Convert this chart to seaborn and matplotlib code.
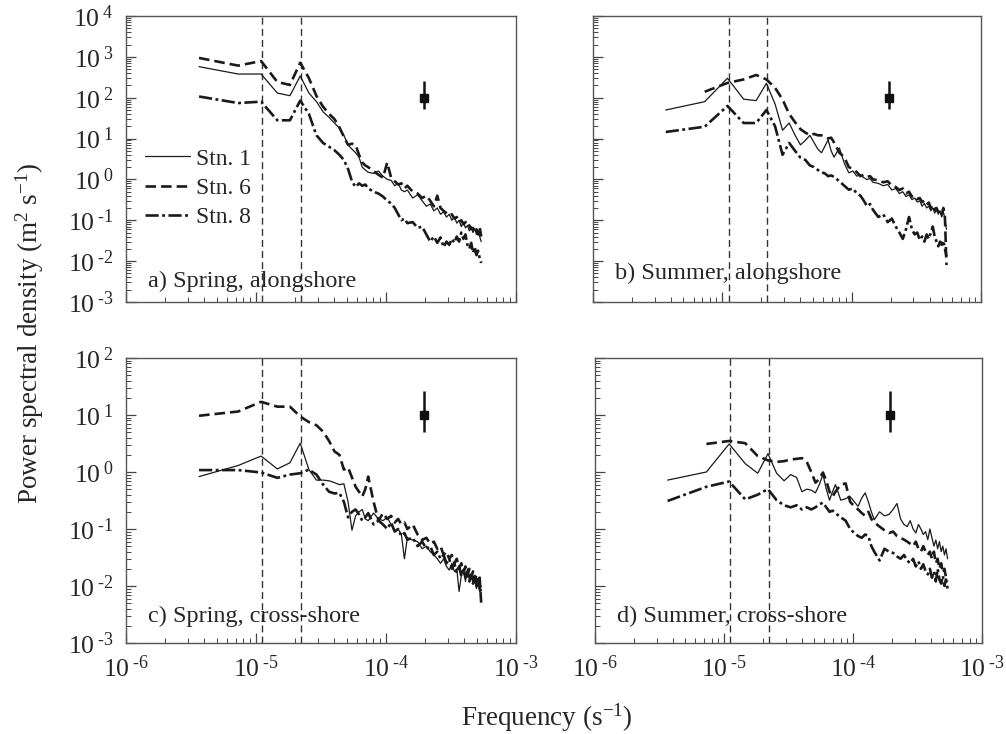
import numpy as np
import pandas as pd
import seaborn as sns
import matplotlib.pyplot as plt
from matplotlib.ticker import FixedLocator, LogLocator, NullFormatter, FixedFormatter

nan = np.nan

# -------------------------------
# data
# -------------------------------
freq = [3.65e-6, 7.3e-6, 1.095e-5, 1.46e-5, 1.825e-5, 2.19e-5, 2.555e-5, 2.92e-5, 3.285e-5, 3.65e-5,
        4.015e-5, 4.38e-5, 4.745e-5, 5.11e-5, 5.475e-5, 5.84e-5, 6.205e-5, 6.57e-5, 6.935e-5, 7.3e-5,
        8.03e-5, 8.76e-5, 9.49e-5, 1.022e-4, 1.095e-4, 1.168e-4, 1.241e-4, 1.314e-4, 1.387e-4, 1.46e-4,
        1.606e-4, 1.752e-4, 1.898e-4, 2.044e-4, 2.19e-4, 2.336e-4, 2.482e-4, 2.628e-4, 2.774e-4, 2.92e-4,
        3.066e-4, 3.212e-4, 3.358e-4, 3.504e-4, 3.65e-4, 3.796e-4, 3.942e-4, 4.088e-4, 4.234e-4, 4.38e-4,
        4.526e-4, 4.672e-4, 4.818e-4, 4.964e-4, 5.11e-4, 5.256e-4, 5.402e-4]

# a) spring, alongshore
a_stn1 = [575, 380, 380, 130, 112, 340, 130, 80, 45, 33,
          24, 18, 12, 7, 5.5, 4.5, 3.5, 2.0, 1.7, 1.5,
          1.4, 1.6, 1.2, 1.0, 0.95, 0.7, 0.8, 0.55, 0.5, 0.55,
          0.35, 0.42, 0.3, 0.22, 0.25, 0.17, 0.2, 0.14, 0.16, 0.12,
          0.14, 0.1, 0.12, 0.085, 0.1, 0.07, 0.09, 0.065, 0.075, 0.055,
          0.07, 0.05, 0.062, 0.045, 0.058, 0.04, 0.03]
a_stn6 = [940, 610, 790, 243, 205, 720, 300, 110, 60, 40,
          30, 19, 11, 7, 7.5, 7, 4, 2.6, 2.2, 2.0,
          1.6, 1.3, 1.1, 2.6, 1.1, 0.9, 0.75, 0.8, 0.6, 0.7,
          0.5, 0.45, 0.35, 0.4, 0.3, 0.22, 0.4, 0.2, 0.17, 0.15,
          0.13, 0.14, 0.11, 0.12, 0.09, 0.1, 0.08, 0.09, 0.07, 0.075,
          0.06, 0.065, 0.05, 0.06, 0.045, 0.07, 0.04]
a_stn8 = [107, 74, 80, 28, 28, 85, 40, 12, 7.8, 6.3,
          5.2, 4.0, 3.0, 1.8, 0.9, 0.65, 0.8, 0.7, 0.75, 0.6,
          0.5, 0.45, 0.38, 0.3, 0.26, 0.2, 0.14, 0.1, 0.11, 0.085,
          0.09, 0.065, 0.07, 0.045, 0.03, 0.04, 0.028, 0.038, 0.022, 0.03,
          0.025, 0.035, 0.028, 0.04, 0.03, 0.05, 0.035, 0.045, 0.025, 0.02,
          0.028, 0.016, 0.022, 0.014, 0.018, 0.012, 0.009]

# b) summer, alongshore
b_stn1 = [50, 80, 300, 92, 85, 225, 70, 16, 24, 12,
          7, 9, 12, 8, 5.5, 4.5, 6.5, 9.3, 5, 3.5,
          5.9, 2.5, 1.45, 1.6, 1.2, 1.3, 1.1, 0.99, 1.05, 0.85,
          0.8, 0.7, 0.75, 0.55, 0.6, 0.45, 0.5, 0.38, 0.42, 0.32,
          0.35, 0.28, 0.3, 0.22, 0.26, 0.2, 0.22, 0.17, 0.2, 0.15,
          0.18, 0.14, 0.17, 0.12, 0.16, 0.11, 0.06]
b_stn6 = [nan, 140, 230, 280, 360, 280, 175, 90, 40, 25,
          17, 14, 12, 13, 12, 12, 11, 10, 10.5, 8,
          4.5, 3.5, 2.0, 1.8, 1.5, 1.2, 1.3, 1.15, 1.2, 1.0,
          0.95, 0.85, 0.9, 0.7, 0.65, 0.55, 0.6, 0.45, 0.5, 0.38,
          0.4, 0.33, 0.35, 0.28, 0.3, 0.24, 0.27, 0.2, 0.24, 0.18,
          0.2, 0.16, 0.18, 0.14, 0.2, 0.12, 0.008]
b_stn8 = [14.5, 19.5, 63, 24, 24, 50, 20, 4, 7.8, 5,
          3.4, 3.0, 2.2, 2.0, 1.7, 1.5, 1.4, 1.2, 1.25, 1.15,
          0.9, 0.7, 0.56, 0.6, 0.45, 0.4, 0.3, 0.22, 0.25, 0.18,
          0.12, 0.14, 0.09, 0.11, 0.07, 0.05, 0.035, 0.06, 0.12, 0.06,
          0.045, 0.05, 0.033, 0.04, 0.03, 0.045, 0.035, 0.05, 0.07, 0.04,
          0.03, 0.023, 0.03, 0.025, 0.032, 0.02, 0.013]

# c) spring, cross-shore
c_stn1 = [0.83, 1.3, 1.9, 1.13, 1.45, 3.2, 1.1, 0.72, 0.72, 0.7,
          0.65, 0.6, 0.62, 0.3, 0.095, 0.17, 0.2, 0.22, 0.15, 0.14,
          0.19, 0.15, 0.14, 0.16, 0.12, 0.09, 0.1, 0.08, 0.03, 0.07,
          0.064, 0.06, 0.045, 0.05, 0.04, 0.035, 0.03, 0.025, 0.03, 0.022,
          0.019, 0.025, 0.018, 0.02, 0.008, 0.015, 0.02, 0.012, 0.02, 0.013,
          0.016, 0.011, 0.014, 0.009, 0.012, 0.008, 0.01]
c_stn6 = [9.7, 11.5, 17, 14, 14, 9.4, 7.5, 6.6, 5.1, 3.5,
          2.3, 2.0, 1.1, 1.2, 0.8, 0.55, 0.45, 0.37, 0.5, 0.83,
          0.3, 0.14, 0.19, 0.15, 0.17, 0.13, 0.15, 0.12, 0.13, 0.1,
          0.12, 0.08, 0.064, 0.07, 0.055, 0.06, 0.045, 0.05, 0.035, 0.04,
          0.03, 0.035, 0.025, 0.03, 0.02, 0.025, 0.017, 0.022, 0.015, 0.02,
          0.014, 0.018, 0.012, 0.016, 0.01, 0.014, 0.005]
c_stn8 = [1.08, 1.08, 0.98, 0.79, 0.9, 0.95, 1.1, 0.9, 0.6, 0.45,
          0.42, 0.43, 0.3, 0.16, 0.2, 0.22, 0.18, 0.14, 0.16, 0.19,
          0.12, 0.14, 0.12, 0.1, 0.13, 0.09, 0.1, 0.075, 0.085, 0.065,
          0.07, 0.05, 0.06, 0.045, 0.05, 0.035, 0.04, 0.03, 0.035, 0.025,
          0.03, 0.02, 0.025, 0.017, 0.022, 0.015, 0.02, 0.014, 0.018, 0.012,
          0.016, 0.011, 0.015, 0.01, 0.013, 0.009, 0.008]

# d) summer, cross-shore
d_stn1 = [0.72, 1.0, 3.1, 1.4, 0.95, 2.1, 0.95, 0.7, 0.9, 0.8,
          0.45, 0.5, 0.48, 0.43, 0.6, 0.9, 0.5, 0.32, 0.45, 0.6,
          0.32, 0.34, 0.37, 0.3, 0.25, 0.35, 0.43, 0.3, 0.2, 0.145,
          0.2, 0.17, 0.18, 0.22, 0.28, 0.15, 0.12, 0.11, 0.14, 0.1,
          0.085, 0.12, 0.1, 0.08, 0.09, 0.065, 0.1, 0.07, 0.05, 0.064,
          0.045, 0.06, 0.04, 0.05, 0.035, 0.045, 0.03]
d_stn6 = [nan, 3.1, 3.5, 3.2, 1.9, 1.6, 1.5, 1.55, 1.65, 1.7,
          1.75, 1.5, 1.0, 0.65, 0.75, 0.98, 0.7, 0.45, 0.37, 0.45,
          0.6, 0.63, 0.3, 0.25, 0.22, 0.19, 0.17, 0.2, 0.15, 0.13,
          0.11, 0.095, 0.085, 0.09, 0.075, 0.07, 0.065, 0.06, 0.055, 0.05,
          0.06, 0.045, 0.04, 0.05, 0.04, 0.035, 0.04, 0.03, 0.04, 0.025,
          0.03, 0.02, 0.025, 0.017, 0.02, 0.014, 0.012]
d_stn8 = [0.31, 0.55, 0.68, 0.33, 0.4, 0.5, 0.32, 0.26, 0.24, 0.26,
          0.22, 0.24, 0.22, 0.24, 0.27, 0.29, 0.24, 0.2, 0.21, 0.19,
          0.16, 0.14, 0.1, 0.085, 0.075, 0.07, 0.08, 0.075, 0.05, 0.04,
          0.028, 0.045, 0.04, 0.038, 0.033, 0.03, 0.035, 0.028, 0.025, 0.03,
          0.022, 0.027, 0.02, 0.024, 0.018, 0.016, 0.02, 0.014, 0.018, 0.012,
          0.02, 0.013, 0.011, 0.015, 0.01, 0.013, 0.009]

stations = ["Stn. 1", "Stn. 6", "Stn. 8"]
panel_titles = ["a) Spring, alongshore", "b) Summer, alongshore",
                "c) Spring, cross-shore", "d) Summer, cross-shore"]
tide_freq = [1.12e-5, 2.22e-5]

# 95% confidence bar shown in each panel
ci_freq = [1.95e-4]
ci_top = [100, 100, 10, 10]
ci_low = [52, 52, 5.1, 5.1]
ci_high = [260, 260, 26, 26]

# -------------------------------
# style
# -------------------------------
sns.set_style("ticks")
plt.rcParams["font.family"] = ["Liberation Serif", "DejaVu Serif"]
plt.rcParams["mathtext.fontset"] = "custom"
plt.rcParams["mathtext.rm"] = "Liberation Serif"
plt.rcParams["mathtext.it"] = "Liberation Serif:italic"
plt.rcParams["mathtext.default"] = "regular"

line_kw = {
    "Stn. 1": dict(lw=0.9, dashes=None),
    "Stn. 6": dict(lw=1.9, dashes=(4.0, 1.9)),
    "Stn. 8": dict(lw=1.9, dashes=(5.0, 1.3, 1.1, 1.3)),
}

fig = plt.figure(figsize=(10.06, 7.34), dpi=100)
boxes = [[0.1252, 0.5886, 0.3877, 0.3896],
         [0.5895, 0.5886, 0.3857, 0.3896],
         [0.1252, 0.1240, 0.3877, 0.3883],
         [0.5915, 0.1240, 0.3847, 0.3883]]
series = [[a_stn1, a_stn6, a_stn8], [b_stn1, b_stn6, b_stn8],
          [c_stn1, c_stn6, c_stn8], [d_stn1, d_stn6, d_stn8]]
title_y = [0.073, 0.10, 0.092, 0.092]


def sup(e):
    # short hyphen instead of the wide math minus, as in the printed figure
    return "10$^{\\;\u2010" + str(abs(e)) + "}$" if e < 0 else "10$^{\\;" + str(e) + "}$"


for i, box in enumerate(boxes):
    ax = fig.add_axes(box)
    ax.set_xscale("log")
    ax.set_yscale("log")
    top = i < 2

    for name, vals in zip(stations, series[i]):
        df = pd.DataFrame({"f": freq, "psd": vals}).dropna()
        kw = line_kw[name]
        sns.lineplot(data=df, x="f", y="psd", ax=ax, color="#1a1a1a",
                     lw=kw["lw"], estimator=None, sort=False, label=name)
        if kw["dashes"] is not None:
            ax.lines[-1].set_dashes(kw["dashes"])

    for tf in tide_freq:
        ax.axvline(tf, color="#333333", lw=1.0, dashes=(5, 3), zorder=1)

    ax.errorbar(ci_freq, [ci_top[i]],
                yerr=[[ci_top[i] - ci_low[i]], [ci_high[i] - ci_top[i]]],
                fmt="s", color="#111111", ms=5.5, elinewidth=1.8, capsize=0)

    ax.set_xlim(1e-6, 1e-3)
    if top:
        ax.set_ylim(1e-3, 1e4)
        ydec = list(range(-3, 5))
    else:
        ax.set_ylim(1e-3, 1e2)
        ydec = list(range(-3, 3))

    ax.xaxis.set_major_locator(FixedLocator([1e-6, 1e-5, 1e-4, 1e-3]))
    ax.xaxis.set_minor_locator(LogLocator(base=10, subs=np.arange(2, 10), numticks=20))
    ax.yaxis.set_major_locator(FixedLocator([10.0 ** e for e in ydec]))
    ax.yaxis.set_minor_locator(LogLocator(base=10, subs=np.arange(2, 10), numticks=20))
    ax.xaxis.set_minor_formatter(NullFormatter())
    ax.yaxis.set_minor_formatter(NullFormatter())

    if top:
        ax.xaxis.set_major_formatter(NullFormatter())
    else:
        ax.xaxis.set_major_formatter(FixedFormatter([sup(e) for e in [-6, -5, -4, -3]]))
    if i % 2 == 0:
        ax.yaxis.set_major_formatter(FixedFormatter([sup(e) for e in ydec]))
    else:
        ax.yaxis.set_major_formatter(NullFormatter())

    ax.tick_params(which="major", direction="in", length=7, width=0.9,
                   color="#444444", labelsize=18.5)
    ax.tick_params(axis="y", which="major", pad=9)
    ax.tick_params(axis="x", which="major", pad=9)
    ax.tick_params(which="minor", direction="in", length=3.5, width=0.7,
                   color="#444444")
    ax.tick_params(axis="x", which="both", top=False)
    ax.tick_params(axis="y", which="both", right=False)
    for s in ax.spines.values():
        s.set_color("#555555")
        s.set_linewidth(1.0)

    ax.set_xlabel("")
    ax.set_ylabel("")
    ax.text(0.057, title_y[i], panel_titles[i], transform=ax.transAxes,
            fontsize=17.5, va="center", ha="left")

    if i == 0:
        ax.legend(loc="upper left", bbox_to_anchor=(0.049, 0.538), frameon=False,
                  fontsize=17, handlelength=1.9, handletextpad=0.25,
                  labelspacing=0.33, borderaxespad=0, borderpad=0)
    else:
        ax.get_legend().remove()

fig.text(0.03, 0.546, "Power spectral density (m$^2$ s$^{-1}$)", rotation=90,
         fontsize=19.5, ha="center", va="center")
fig.text(0.544, 0.022, "Frequency (s$^{-1}$)", fontsize=19.5, ha="center", va="center")

fig.savefig("out.png", dpi=100)
